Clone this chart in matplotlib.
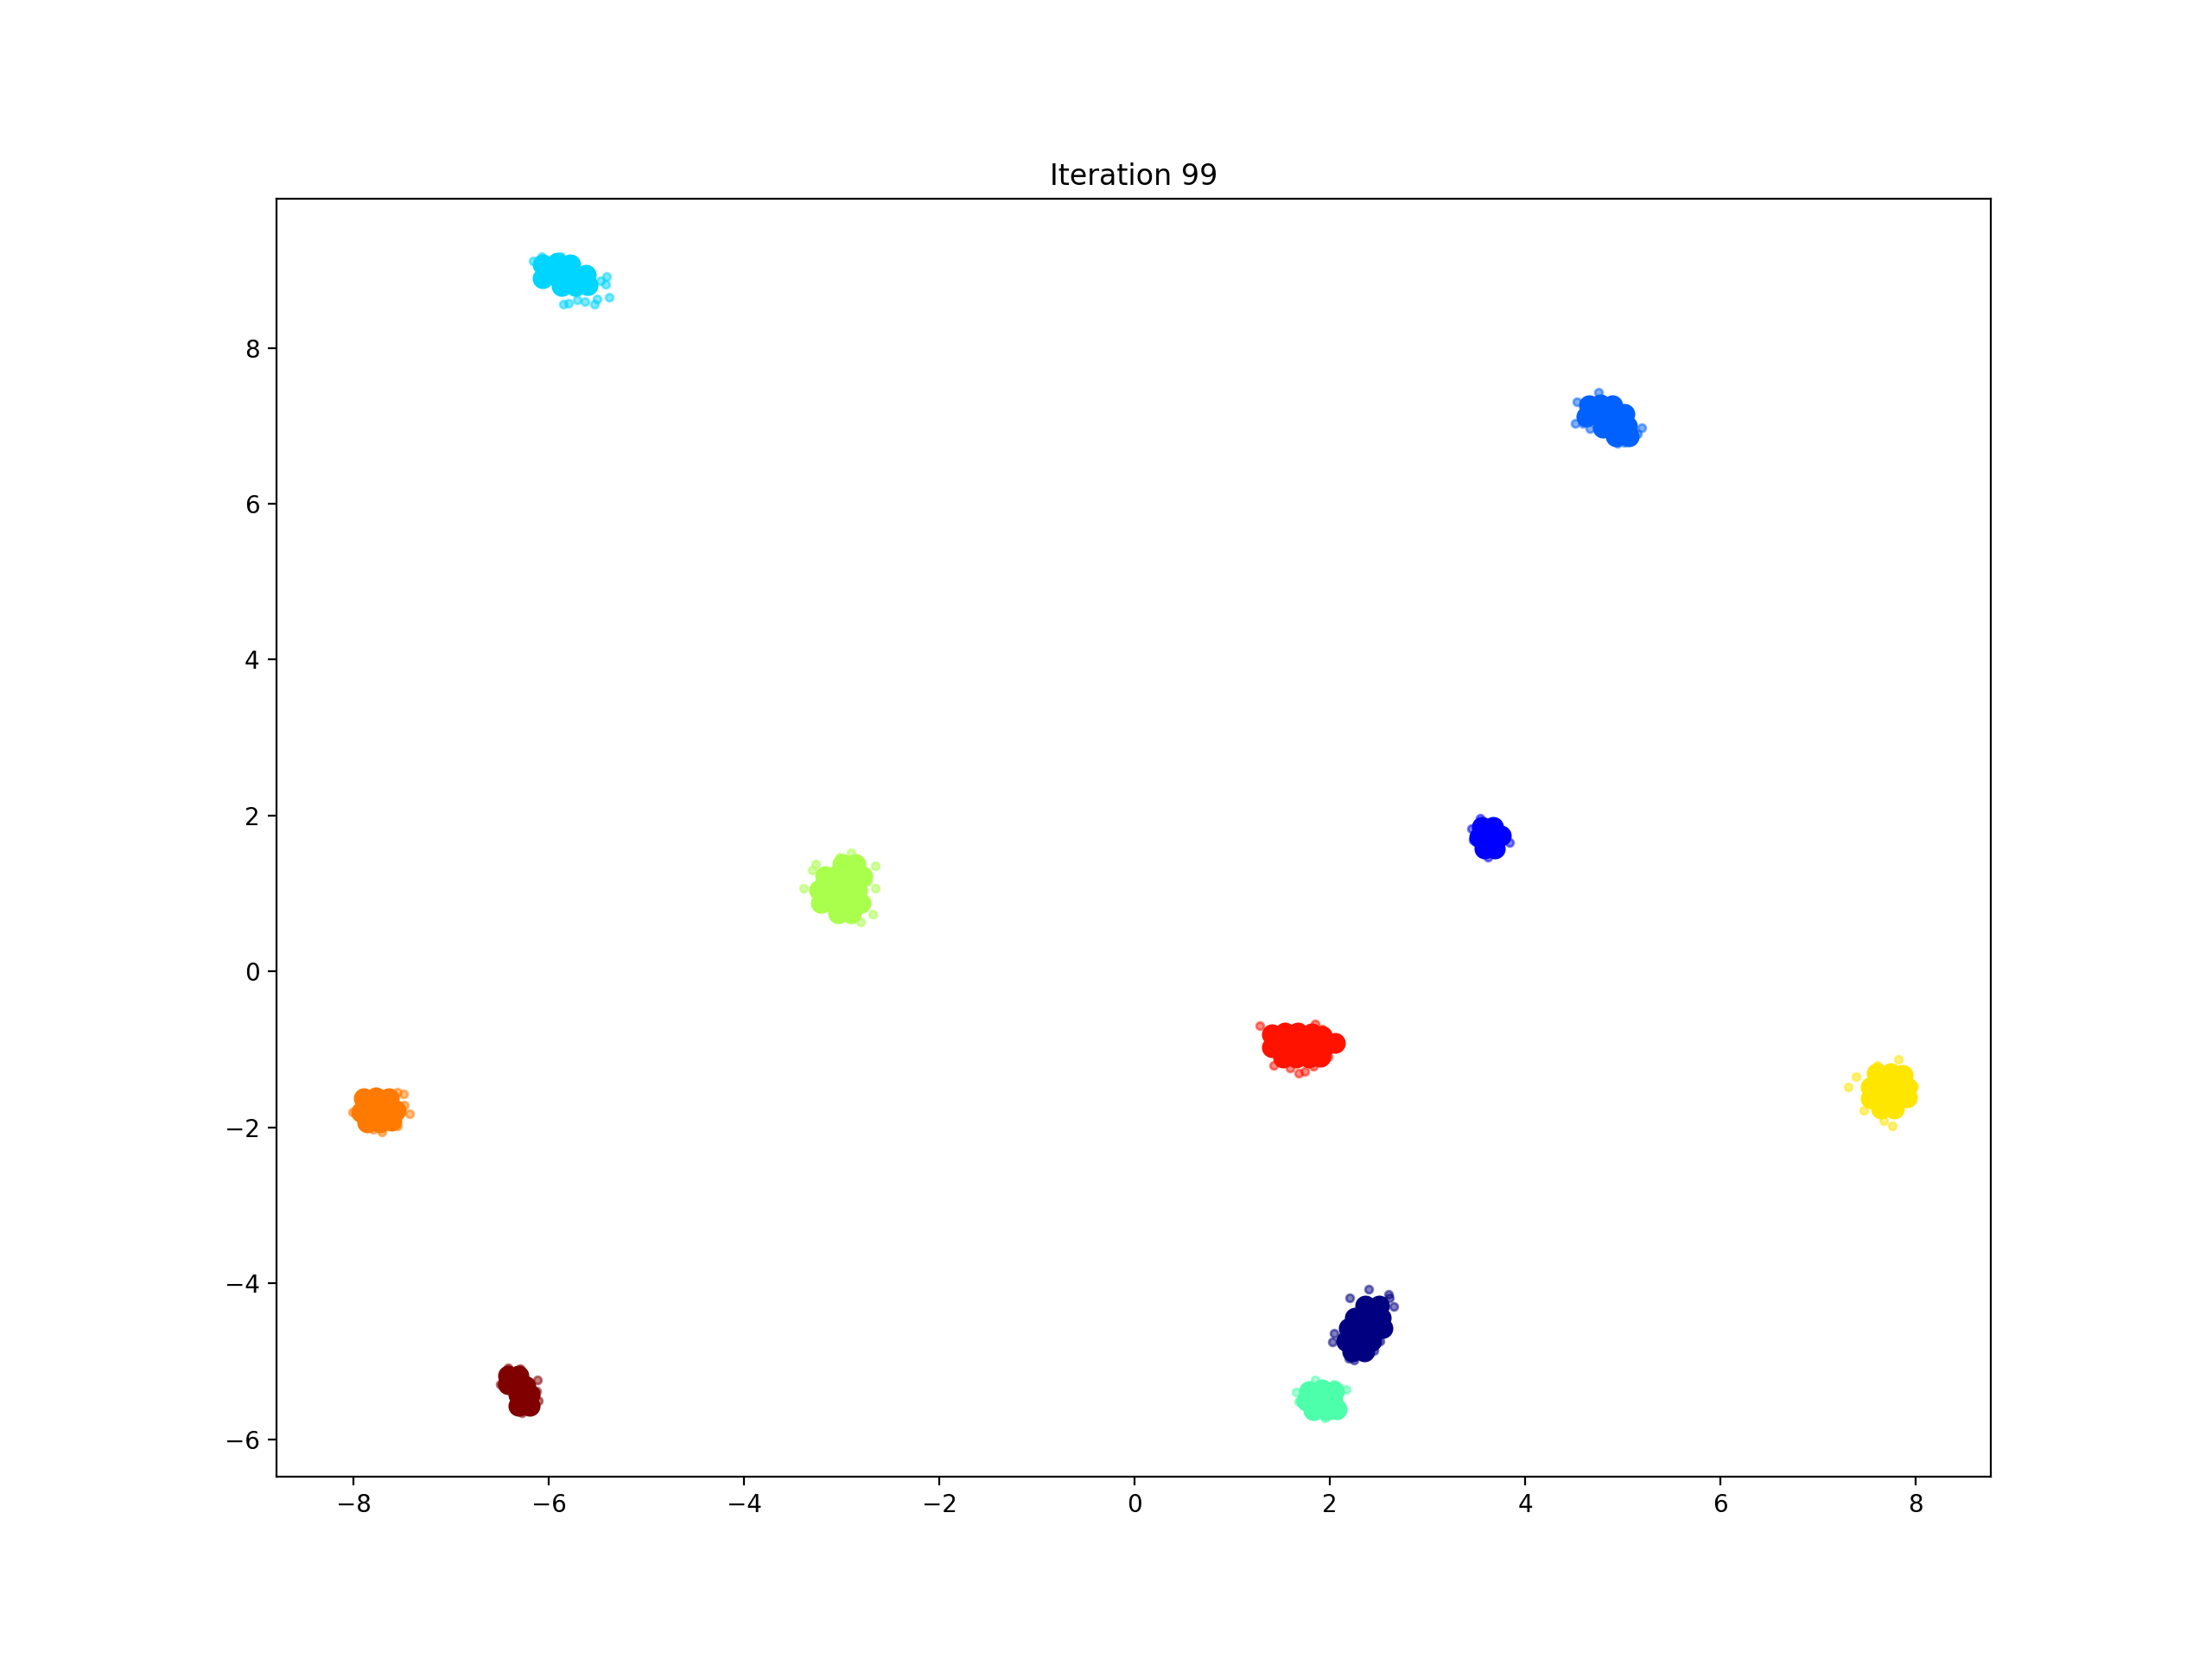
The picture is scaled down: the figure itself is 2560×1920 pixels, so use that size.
import numpy as np
import matplotlib
matplotlib.use('Agg')
import matplotlib.pyplot as plt

# cluster points, (x, y) in data units
# "core" = dense middle of each blob, "edge" = loose points round it
core_0 = [(2.36,-4.29),(2.50,-4.29),(2.26,-4.44),(2.39,-4.44),(2.52,-4.44),(2.19,-4.58),(2.32,-4.58),
          (2.45,-4.58),(2.54,-4.58),(2.17,-4.74),(2.29,-4.74),(2.42,-4.74),(2.23,-4.88),(2.35,-4.88)]
edge_0 = [(2.40,-4.08),(2.60,-4.14),(2.61,-4.19),(2.65,-4.30),(2.20,-4.19),(2.03,-4.75),(2.04,-4.64),
          (2.19,-4.96),(2.25,-4.99),(2.45,-4.86),(2.51,-4.74),(2.57,-4.57)]

core_1 = [(3.56,1.85),(3.67,1.85),(3.53,1.72),(3.65,1.72),(3.75,1.74),(3.58,1.58),(3.69,1.58)]
edge_1 = [(3.84,1.66),(3.47,1.69),(3.45,1.83),(3.54,1.97),(3.72,1.52),(3.73,1.57),(3.62,1.47)]

core_2 = [(4.65,7.26),(4.77,7.28),(4.89,7.26),(4.63,7.12),(4.77,7.13),(4.89,7.13),(5.02,7.15),
          (4.80,6.98),(4.91,6.98),(5.04,7.00),(4.93,6.87),(5.06,6.87)]
edge_2 = [(4.51,7.03),(4.59,7.03),(4.66,6.96),(5.19,6.98),(5.15,6.90),(5.09,6.84),(5.02,6.79),
          (4.95,6.78),(4.75,7.43),(4.53,7.31)]

core_3 = [(-6.06,9.07),(-5.91,9.09),(-5.78,9.07),(-6.06,8.90),(-5.91,8.92),(-5.76,8.92),(-5.62,8.94),
          (-5.87,8.79),(-5.73,8.79),(-5.60,8.81)]
edge_3 = [(-5.41,8.92),(-5.42,8.82),(-5.38,8.65),(-5.85,8.56),(-5.80,8.57),(-5.63,8.60),(-5.53,8.56),
          (-5.71,8.62),(-5.51,8.63),(-5.47,8.86),(-6.16,9.12),(-6.07,9.17),(-5.88,9.17)]

core_4 = [(1.79,-5.38),(1.92,-5.36),(2.04,-5.38),(1.76,-5.51),(1.89,-5.51),(2.03,-5.51),
          (1.83,-5.63),(1.96,-5.63),(2.07,-5.62)]
edge_4 = [(2.17,-5.36),(1.65,-5.40),(1.68,-5.52),(1.85,-5.24),(2.04,-5.30),(1.95,-5.73)]

core_5 = [(-2.99,1.38),(-2.86,1.38),(-3.17,1.22),(-3.04,1.24),(-2.90,1.24),(-2.79,1.22),
          (-3.23,1.05),(-3.11,1.05),(-2.97,1.05),(-2.84,1.05),(-3.21,0.88),(-3.08,0.88),
          (-2.95,0.88),(-2.81,0.88),(-3.04,0.75),(-2.90,0.75)]
edge_5 = [(-3.39,1.07),(-3.30,1.30),(-3.27,1.38),(-2.66,1.36),(-2.66,1.07),(-2.68,0.74),
          (-2.81,0.63),(-2.90,1.52),(-3.02,1.47),(-2.74,1.16)]

core_6 = [(7.60,-1.31),(7.74,-1.31),(7.87,-1.33),(7.54,-1.48),(7.67,-1.47),(7.81,-1.47),(7.91,-1.48),
          (7.54,-1.63),(7.67,-1.63),(7.81,-1.63),(7.91,-1.61),(7.65,-1.76),(7.78,-1.76)]
edge_6 = [(7.31,-1.48),(7.39,-1.35),(7.82,-1.13),(7.61,-1.20),(7.76,-1.98),(7.67,-1.91),
          (7.98,-1.47),(7.96,-1.64),(7.47,-1.78)]

core_7 = [(-7.90,-1.63),(-7.77,-1.61),(-7.64,-1.63),(-7.92,-1.80),(-7.79,-1.80),(-7.65,-1.80),
          (-7.57,-1.78),(-7.86,-1.94),(-7.73,-1.94),(-7.61,-1.92)]
edge_7 = [(-7.48,-1.72),(-7.43,-1.83),(-7.49,-1.57),(-7.55,-1.55),(-7.71,-2.06),(-7.80,-2.02),
          (-8.01,-1.80),(-7.55,-1.98)]

core_8 = [(1.41,-0.81),(1.54,-0.78),(1.67,-0.78),(1.81,-0.80),(1.92,-0.83),(1.41,-0.97),(1.54,-0.97),
          (1.67,-0.97),(1.81,-0.97),(1.94,-0.97),(2.05,-0.92),(1.52,-1.11),(1.65,-1.11),(1.79,-1.11),
          (1.90,-1.09)]
edge_8 = [(1.28,-0.69),(1.68,-1.31),(1.74,-1.28),(1.59,-1.24),(1.42,-1.20),(1.83,-1.22),(1.98,-1.09),
          (2.08,-0.87),(2.08,-0.97),(1.92,-0.74),(1.85,-0.67)]

core_9 = [(-6.42,-5.18),(-6.31,-5.18),(-6.42,-5.30),(-6.31,-5.30),(-6.24,-5.32),(-6.31,-5.43),
          (-6.20,-5.43),(-6.31,-5.57),(-6.20,-5.57)]
edge_9 = [(-6.50,-5.30),(-6.29,-5.10),(-6.12,-5.24),(-6.11,-5.51),(-6.28,-5.66),(-6.42,-5.08),
          (-6.13,-5.38)]

cores = [core_0, core_1, core_2, core_3, core_4, core_5, core_6, core_7, core_8, core_9]
edges = [edge_0, edge_1, edge_2, edge_3, edge_4, edge_5, edge_6, edge_7, edge_8, edge_9]
n_clusters = len(cores)

fig, ax = plt.subplots(1, 1, figsize=(12.8, 9.6))
for k in range(n_clusters):
    col = plt.cm.jet(k / (n_clusters - 1))
    cx, cy = np.array(cores[k]).T
    ex, ey = np.array(edges[k]).T
    ax.scatter(cx, cy, s=75, color=col, linewidths=0)
    ax.scatter(ex, ey, s=10, color=col, alpha=0.5)

ax.set_xlim(-8.79, 8.77)
ax.set_ylim(-6.48, 9.91)
ax.set_title('Iteration 99')
fig.savefig('out.png', dpi=200)
